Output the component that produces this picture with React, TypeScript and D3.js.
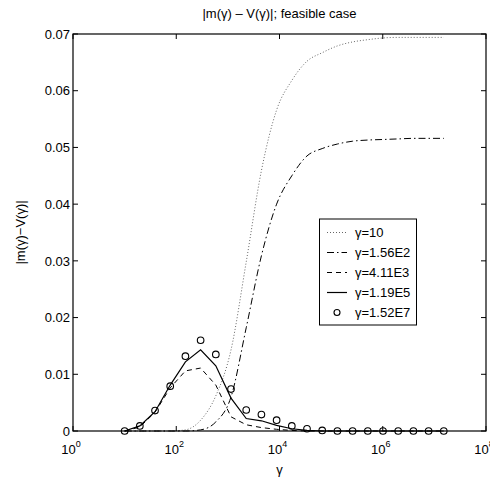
import React from "react";
import * as d3 from "d3";

const gammaGrid = [10, 19.7, 38.8, 76.4, 150.5, 296.5, 584, 1150, 2266, 4463, 8790, 17314, 34102, 67170, 132300, 260600, 513300, 1011000, 1991000, 3922000, 7727000, 15200000];

const seriesG10 = [0, 0, 0, 0, 0.0002, 0.0019, 0.0062, 0.0143, 0.0298, 0.0459, 0.0566, 0.0618, 0.0652, 0.0667, 0.0679, 0.0686, 0.069, 0.0693, 0.0694, 0.0694, 0.0694, 0.0694];
const seriesG156E2 = [0, 0, 0, 0, 0, 0.0002, 0.0016, 0.006, 0.0182, 0.0309, 0.04, 0.045, 0.0485, 0.0498, 0.0506, 0.0511, 0.0513, 0.0514, 0.0515, 0.0516, 0.0516, 0.0516];
const seriesG411E3 = [0, 0.0007, 0.0033, 0.0076, 0.0106, 0.0111, 0.0081, 0.0025, 0.0011, 0.0006, 0.0003, 0.0001, 0, 0, 0, 0, 0, 0, 0, 0, 0, 0];
const seriesG119E5 = [0, 0.0009, 0.0034, 0.0081, 0.0122, 0.0143, 0.0115, 0.0058, 0.0022, 0.0018, 0.001, 0.0004, 0.0001, 0, 0, 0, 0, 0, 0, 0, 0, 0];
const seriesG152E7 = [0, 0.0009, 0.0036, 0.0079, 0.0132, 0.016, 0.0135, 0.0074, 0.0037, 0.0029, 0.0019, 0.0009, 0.0004, 0.0001, 0, 0, 0, 0, 0, 0, 0, 0];

const legendLabels = ["γ=10", "γ=1.56E2", "γ=4.11E3", "γ=1.19E5", "γ=1.52E7"];
const xTickExponents = [0, 2, 4, 6, 8];
const yTicks = [0, 0.01, 0.02, 0.03, 0.04, 0.05, 0.06, 0.07];

const W = 490, H = 484;
const m = { left: 73, right: 486, top: 34, bottom: 431 };
const font = "'Liberation Sans', Arial, Helvetica, sans-serif";

export default function App() {
  const x = d3.scaleLog().domain([1, 1e8]).range([m.left, m.right]);
  const y = d3.scaleLinear().domain([0, 0.07]).range([m.bottom, m.top]);
  const lineLinear = d3.line<number>()
    .x((_, i) => x(gammaGrid[i]))
    .y((d) => y(d));
  const lineSmooth = d3.line<number>()
    .x((_, i) => x(gammaGrid[i]))
    .y((d) => y(d))
    .curve(d3.curveMonotoneX);

  const styles = [
    { dash: "1,2", width: 1, color: "#666", smooth: true },
    { dash: "7,3,1.5,3", width: 1, color: "#000", smooth: true },
    { dash: "5,4", width: 1, color: "#000", smooth: false },
    { dash: "none", width: 1.2, color: "#000", smooth: false },
  ];
  const lineSeries = [seriesG10, seriesG156E2, seriesG411E3, seriesG119E5];

  const legX = 319.5, legY = 219, legW = 97, legH = 106;
  const rowY = (i: number) => 232.5 + i * 20;

  return (
    <svg width={W} height={H} style={{ position: "absolute", left: 0, top: 0, background: "#fff" }} fontFamily={font}>
      <rect x={0} y={0} width={W} height={H} fill="#fff" />
      {/* title */}
      <text x={(m.left + m.right) / 2} y={18} textAnchor="middle" fontSize={13}>
        |m(γ) – V(γ)|; feasible case
      </text>
      {/* y label */}
      <text transform={`translate(25,${(m.top + m.bottom) / 2}) rotate(-90)`} textAnchor="middle" fontSize={13}>
        |m(γ)−V(γ)|
      </text>
      {/* x label */}
      <text x={(m.left + m.right) / 2} y={474} textAnchor="middle" fontSize={13}>γ</text>

      {/* series lines */}
      {lineSeries.map((s, i) => (
        <path key={i} d={(styles[i].smooth ? lineSmooth(s) : lineLinear(s)) || ""} fill="none" stroke={styles[i].color}
          strokeWidth={styles[i].width} strokeDasharray={styles[i].dash} />
      ))}
      {seriesG152E7.map((v, i) => (
        <circle key={i} cx={x(gammaGrid[i])} cy={y(v)} r={3.3} fill="none" stroke="#000" strokeWidth={1.1} />
      ))}

      {/* axes box */}
      <rect x={m.left} y={m.top} width={m.right - m.left} height={m.bottom - m.top} fill="none" stroke="#000" strokeWidth={1.2} />

      {/* y ticks */}
      {yTicks.map((t) => (
        <g key={t}>
          <line x1={m.left} x2={m.left + 5} y1={y(t)} y2={y(t)} stroke="#000" />
          <line x1={m.right} x2={m.right - 5} y1={y(t)} y2={y(t)} stroke="#000" />
          <text x={m.left - 3} y={y(t)} dy="0.36em" textAnchor="end" fontSize={13}>
            {t === 0 ? "0" : t.toFixed(2)}
          </text>
        </g>
      ))}
      {/* x ticks */}
      {xTickExponents.map((e) => {
        const px = x(Math.pow(10, e));
        return (
          <g key={e}>
            <line x1={px} x2={px} y1={m.bottom} y2={m.bottom - 5} stroke="#000" />
            <line x1={px} x2={px} y1={m.top} y2={m.top + 5} stroke="#000" />
            <text x={px - 2} y={454} textAnchor="middle" fontSize={13}>
              10<tspan dy={-7} fontSize={9}>{e}</tspan>
            </text>
          </g>
        );
      })}

      {/* legend */}
      <rect x={legX} y={legY} width={legW} height={legH} fill="#fff" stroke="#000" strokeWidth={1} />
      {legendLabels.map((lab, i) => (
        <g key={lab}>
          {i < 4 ? (
            <line x1={327} x2={347} y1={rowY(i)} y2={rowY(i)} stroke={styles[i].color}
              strokeWidth={styles[i].width} strokeDasharray={styles[i].dash} />
          ) : (
            <circle cx={337} cy={rowY(i)} r={3} fill="none" stroke="#000" strokeWidth={1.1} />
          )}
          <text x={355} y={rowY(i)} dy="0.36em" fontSize={13}>{lab}</text>
        </g>
      ))}
    </svg>
  );
}
